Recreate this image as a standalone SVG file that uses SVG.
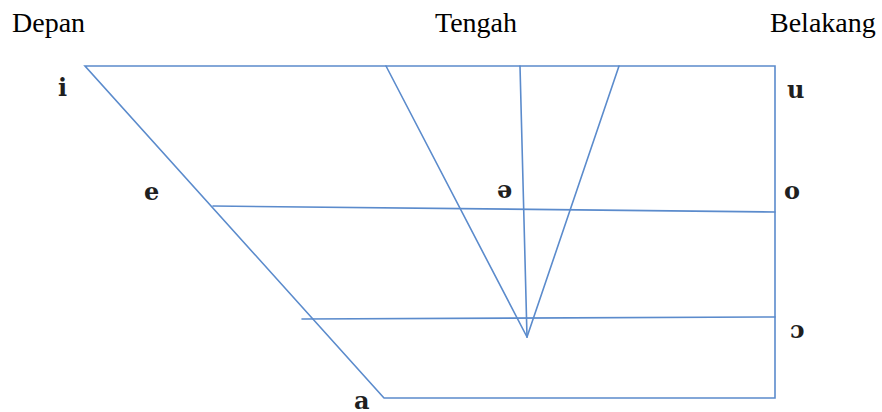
<svg xmlns="http://www.w3.org/2000/svg" width="882" height="412" viewBox="0 0 882 412">
<style>
.hdr{font-family:"Liberation Serif",serif;font-size:28px;fill:#000}
.v{font-family:"DejaVu Serif","Liberation Serif",serif;font-size:24px;font-weight:bold;fill:#1f1f1f}
.ln{stroke:#5b8bcc;stroke-width:1.6;fill:none;stroke-linecap:round}
</style>
<rect width="882" height="412" fill="#fff"/>
<g id="headers">
<text class="hdr" x="12" y="32">Depan</text>
<text class="hdr" x="435" y="32">Tengah</text>
<text class="hdr" x="770" y="32">Belakang</text>
</g>
<g id="connectors">
<polyline class="ln" points="384,398 775,398 775,66 85,66 384,398"/>
<line class="ln" x1="213" y1="206" x2="775" y2="212"/>
<line class="ln" x1="302" y1="319" x2="775" y2="317"/>
<line class="ln" x1="386" y1="66" x2="527" y2="337"/>
<line class="ln" x1="520" y1="66" x2="527" y2="337"/>
<line class="ln" x1="619" y1="66" x2="527" y2="337"/>
</g>
<g id="vowels">
<text class="v" x="58" y="96">i</text>
<text class="v" x="787" y="98">u</text>
<text class="v" x="144" y="200">e</text>
<text class="v" x="497" y="198">ə</text>
<text class="v" x="784" y="199">o</text>
<text class="v" x="790" y="338">ɔ</text>
<text class="v" x="354" y="409">a</text>
</g>
</svg>
